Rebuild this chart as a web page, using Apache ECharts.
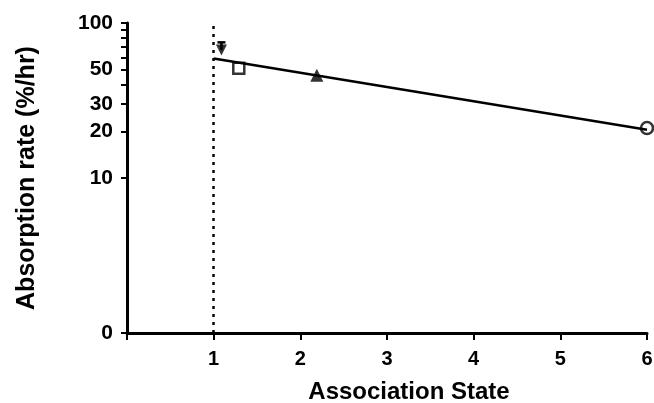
<!DOCTYPE html>
<html>
<head>
<meta charset="utf-8">
<script src="https://cdn.jsdelivr.net/npm/echarts@6/dist/echarts.min.js"></script>
<style>
  html, body { margin: 0; padding: 0; background: #fff; }
  #chart { width: 654px; height: 403px; }
</style>
</head>
<body>
<div id="chart"></div>
<script>
// data
var monomer = [[1.09, 67]];        // inverted triangle
var monomerErr = [[1.09, 67, 75]]; // x, value, upper error
var square = [[1.29, 51]];
var trimer = [[2.19, 46]];         // filled triangle
var hexamer = [[6, 21]];           // open circle
var fitLine = [[1, 59], [6, 20.5]];
var xTicks = [0, 1, 2, 3, 4, 5, 6];
var yLabels = [1, 10, 20, 30, 50, 100];
var yTicks = [1, 10, 20, 30, 40, 50, 60, 70, 80, 90, 100];

var font = 'Liberation Sans';

//生成图表
function generateChart() {
    var myChart = echarts.init(document.getElementById('chart'));
    var option = {
        animation: false,
        grid: { left: 127, right: 7, top: 23, bottom: 70, outerBoundsMode: 'none' },
        xAxis: {
            type: 'value',
            min: 0,
            max: 6,
            interval: 1,
            name: 'Association State',
            nameLocation: 'middle',
            nameGap: 47,
            nameTextStyle: { fontFamily: font, fontWeight: 'bold', fontSize: 24, color: '#000', padding: [0, 0, 0, 44] },
            axisLine: { lineStyle: { color: '#000', width: 3 } },
            axisTick: { show: true, length: 7, lineStyle: { color: '#000', width: 2 }, customValues: xTicks },
            axisLabel: {
                fontFamily: font, fontWeight: 'bold', fontSize: 20, color: '#000', margin: 16,
                formatter: function (v) { return v === 0 ? '' : String(v); }
            },
            splitLine: { show: false }
        },
        yAxis: {
            type: 'log',
            logBase: 10,
            min: 1,
            max: 100,
            name: 'Absorption rate (%/hr)',
            nameLocation: 'middle',
            nameGap: 87,
            nameTextStyle: { fontFamily: font, fontWeight: 'bold', fontSize: 25, color: '#000' },
            axisLine: { show: true, lineStyle: { color: '#000', width: 3 } },
            axisTick: { show: true, length: 6, lineStyle: { color: '#000', width: 2 }, customValues: yTicks },
            axisLabel: {
                fontFamily: font, fontWeight: 'bold', fontSize: 21, color: '#000', margin: 14,
                customValues: yLabels,
                formatter: function (v) { return v === 1 ? '0' : String(Math.round(v)); }
            },
            splitLine: { show: false }
        },
        series: [
            {
                type: 'line',
                data: fitLine,
                symbol: 'none',
                lineStyle: { color: '#000', width: 2.5 },
                markLine: {
                    silent: true,
                    symbol: 'none',
                    label: { show: false },
                    lineStyle: { color: '#000', width: 2.5, type: [3, 5] },
                    data: [[{ coord: [1, 1] }, { coord: [1, 100] }]]
                }
            },
            {
                type: 'custom',
                data: monomerErr,
                renderItem: function (params, api) {
                    var p0 = api.coord([api.value(0), api.value(1)]);
                    var p1 = api.coord([api.value(0), api.value(2)]);
                    return {
                        type: 'group',
                        children: [
                            { type: 'line', shape: { x1: p0[0], y1: p0[1], x2: p1[0], y2: p1[1] }, style: { stroke: '#000', lineWidth: 2.5 } },
                            { type: 'line', shape: { x1: p1[0] - 4, y1: p1[1], x2: p1[0] + 4, y2: p1[1] }, style: { stroke: '#000', lineWidth: 2.5 } }
                        ]
                    };
                }
            },
            {
                type: 'scatter',
                data: monomer,
                symbol: 'triangle',
                symbolRotate: 180,
                symbolSize: 11,
                itemStyle: { color: '#000' }
            },
            {
                type: 'scatter',
                data: square,
                symbol: 'rect',
                symbolSize: 11,
                itemStyle: { color: '#fff', borderColor: '#000', borderWidth: 2.5 }
            },
            {
                type: 'scatter',
                data: trimer,
                symbol: 'triangle',
                symbolSize: 13,
                itemStyle: { color: '#000' }
            },
            {
                type: 'scatter',
                data: hexamer,
                symbol: 'circle',
                symbolSize: 12,
                itemStyle: { color: '#fff', borderColor: '#000', borderWidth: 2.5 }
            }
        ]
    };
    myChart.setOption(option);
}

generateChart();
</script>
</body>
</html>
